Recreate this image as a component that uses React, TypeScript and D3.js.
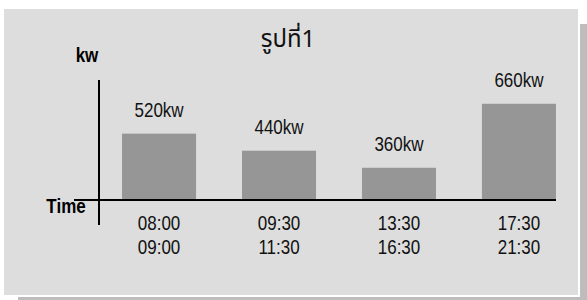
import React, { useEffect, useRef } from 'react';
import * as d3 from 'd3';

const periodStart = ['08:00', '09:30', '13:30', '17:30'];
const periodEnd = ['09:00', '11:30', '16:30', '21:30'];
const loadKw = [520, 440, 360, 660];
const title = 'รูปที่1';
const yLabel = 'kw';
const xLabel = 'Time';

const sans = '"Liberation Sans", Arial, sans-serif';
// no narrow font installed, so squeeze regular Liberation Sans horizontally
const squeeze = 0.85;

const App: React.FC = () => {
  const svgRef = useRef<SVGSVGElement>(null);

  useEffect(() => {
    if (!svgRef.current) return;
    d3.select(svgRef.current).selectAll('*').remove();

    const width = 587;
    const height = 300;
    const svg = d3.select(svgRef.current)
      .attr('width', width)
      .attr('height', height);

    // frame: shadow, white edge, grey panel
    svg.append('rect').attr('x', 18).attr('y', 24).attr('width', 569).attr('height', 280).attr('fill', '#bdbdbd');
    svg.append('rect').attr('x', 2).attr('y', 7).attr('width', 578).attr('height', 290).attr('fill', '#ffffff');
    svg.append('rect').attr('x', 4).attr('y', 9).attr('width', 574).attr('height', 286).attr('fill', '#dddddd');

    const cats = periodStart.map((s, i) => s + '-' + periodEnd[i]);
    const baseY = 200;
    const axisX = 99;

    const x = d3.scaleBand<string>()
      .domain(cats)
      .range([axisX, 579])
      .paddingInner(0.383)
      .paddingOuter(0.192);

    const y = d3.scaleLinear()
      .domain([209, 680])
      .range([baseY, 99.5]);

    const g = svg.append('g');
    const cx = (i: number) => (x(cats[i]) as number) + x.bandwidth() / 2;

    const label = (px: number, py: number, txt: string, bold = false, size = 20) =>
      g.append('text')
        .attr('transform', `translate(${px},${py}) scale(${squeeze},1)`)
        .attr('text-anchor', 'middle')
        .attr('font-family', sans)
        .attr('font-weight', bold ? 'bold' : 'normal')
        .attr('font-size', size)
        .attr('fill', bold ? '#000' : '#111')
        .text(txt);

    // bars
    g.selectAll('rect.bar')
      .data(loadKw)
      .enter()
      .append('rect')
      .attr('class', 'bar')
      .attr('x', (_, i) => x(cats[i]) as number)
      .attr('y', d => y(d))
      .attr('width', x.bandwidth())
      .attr('height', d => baseY - y(d))
      .attr('fill', '#969696');

    // value labels
    loadKw.forEach((d, i) => label(cx(i), y(d) - 17, `${d}kw`));

    // time labels (two lines)
    cats.forEach((_, i) => {
      label(cx(i), 230, periodStart[i]);
      label(cx(i), 254, periodEnd[i]);
    });

    // axes
    g.append('line')
      .attr('x1', 74).attr('x2', 556)
      .attr('y1', baseY).attr('y2', baseY)
      .attr('stroke', '#000').attr('stroke-width', 2);
    g.append('line')
      .attr('x1', axisX).attr('x2', axisX)
      .attr('y1', 80).attr('y2', 225)
      .attr('stroke', '#000').attr('stroke-width', 2);

    // axis names
    label(87, 62, yLabel, true);
    label(66, 213, xLabel, true);

    // title
    g.append('text')
      .attr('x', 288).attr('y', 47)
      .attr('text-anchor', 'middle')
      .attr('font-family', '"Noto Sans Thai", "Noto Sans", "DejaVu Sans", sans-serif')
      .attr('font-size', 24)
      .attr('fill', '#111')
      .text(title);
  }, []);

  return (
    <svg ref={svgRef} style={{ position: 'absolute', left: 0, top: 0, display: 'block' }}></svg>
  );
};

export default App;
